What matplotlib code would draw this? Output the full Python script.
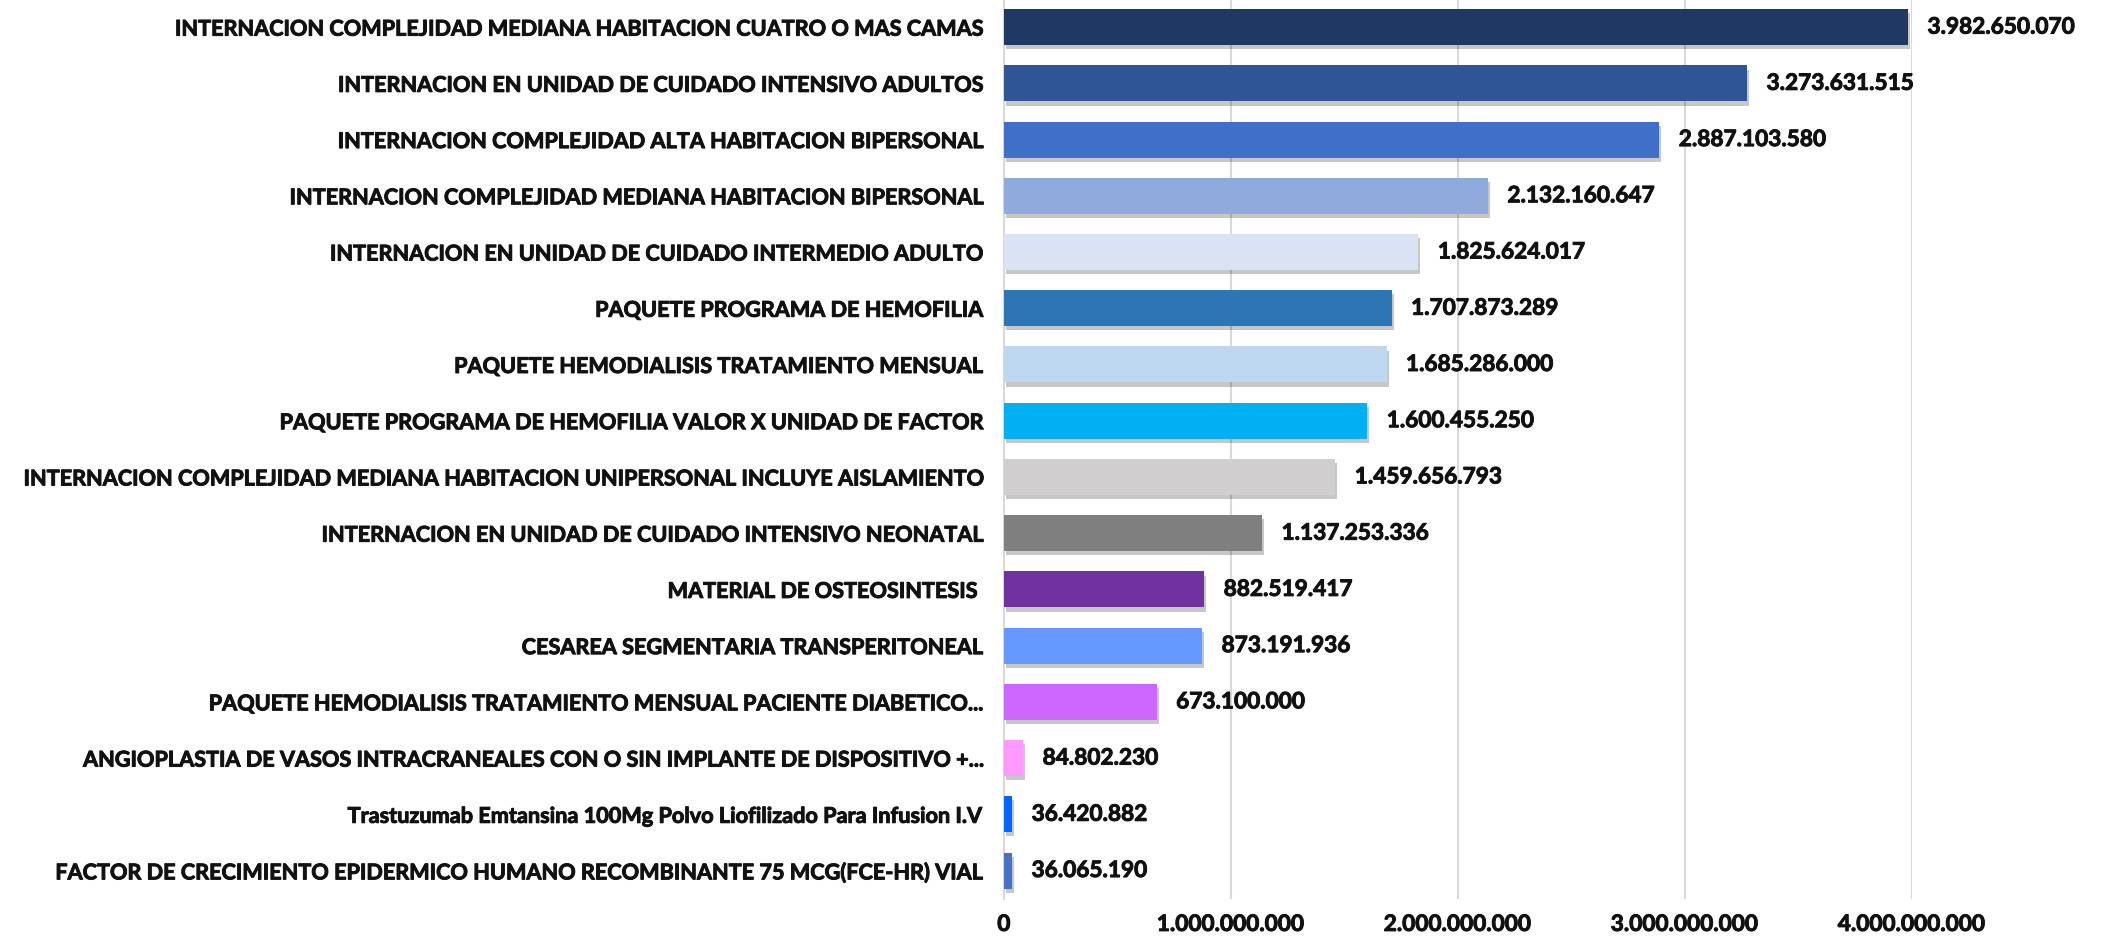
import matplotlib
matplotlib.use("Agg")
import matplotlib.pyplot as plt
import matplotlib.patheffects as pe
from matplotlib.ticker import FuncFormatter

plt.rcParams['font.family'] = ['Lato', 'DejaVu Sans']
plt.rcParams['font.weight'] = 'bold'

# servicios ordenados de mayor a menor valor
servicios = [
    "INTERNACION COMPLEJIDAD MEDIANA HABITACION CUATRO O MAS CAMAS",
    "INTERNACION EN UNIDAD DE CUIDADO INTENSIVO ADULTOS",
    "INTERNACION COMPLEJIDAD ALTA HABITACION BIPERSONAL",
    "INTERNACION COMPLEJIDAD MEDIANA HABITACION BIPERSONAL",
    "INTERNACION EN UNIDAD DE CUIDADO INTERMEDIO ADULTO",
    "PAQUETE PROGRAMA DE HEMOFILIA",
    "PAQUETE HEMODIALISIS TRATAMIENTO MENSUAL",
    "PAQUETE PROGRAMA DE HEMOFILIA VALOR X UNIDAD DE FACTOR",
    "INTERNACION COMPLEJIDAD MEDIANA HABITACION UNIPERSONAL INCLUYE AISLAMIENTO",
    "INTERNACION EN UNIDAD DE CUIDADO INTENSIVO NEONATAL",
    "MATERIAL DE OSTEOSINTESIS ",
    "CESAREA SEGMENTARIA TRANSPERITONEAL",
    "PAQUETE HEMODIALISIS TRATAMIENTO MENSUAL PACIENTE DIABETICO...",
    "ANGIOPLASTIA DE VASOS INTRACRANEALES CON O SIN IMPLANTE DE DISPOSITIVO +...",
    "Trastuzumab Emtansina 100Mg Polvo Liofilizado Para Infusion I.V",
    "FACTOR DE CRECIMIENTO EPIDERMICO HUMANO RECOMBINANTE 75 MCG(FCE-HR) VIAL",
]
valores = [
    3982650070, 3273631515, 2887103580, 2132160647, 1825624017,
    1707873289, 1685286000, 1600455250, 1459656793, 1137253336,
    882519417, 873191936, 673100000, 84802230, 36420882, 36065190,
]
colores = [
    "#203864", "#2F5597", "#3F6FC9", "#8FAADC", "#DAE3F3",
    "#2E75B6", "#BDD7EE", "#00B0F0", "#D0CECE", "#7F7F7F",
    "#7030A0", "#6699FF", "#CC66FF", "#FF99FF", "#0066FF", "#4472C4",
]
ticks_x = [0, 1e9, 2e9, 3e9, 4e9]

texto = '#111111'
grueso = [pe.withStroke(linewidth=0.7, foreground=texto)]

def miles(v):
    return f"{int(v):,}".replace(",", ".")

fig = plt.figure(figsize=(21.02, 9.45), dpi=100)
ax = fig.add_axes([0.4776, 0.048, 0.4320, 0.952])

pos = list(range(len(servicios)))
bars = ax.barh(pos, valores, height=0.64, color=colores, zorder=3)
for b in bars:
    b.set_path_effects([pe.SimplePatchShadow(offset=(1.5, -3), shadow_rgbFace='black', alpha=0.22), pe.Normal()])

etiquetas = []
for b, v in zip(bars, valores):
    t = ax.annotate(miles(v), (b.get_width(), b.get_y() + b.get_height() / 2),
                    xytext=(14, 0), textcoords='offset points',
                    va='center', ha='left', fontsize=14, fontweight='bold', color=texto)
    etiquetas.append(t)

ax.set_yticks(pos)
ax.set_yticklabels(servicios, fontsize=14, fontweight='bold', color=texto)
ax.set_ylim(len(servicios) - 0.5, -0.5)
ax.set_xlim(0, 4e9)
ax.set_xticks(ticks_x)
ax.xaxis.set_major_formatter(FuncFormatter(lambda v, p: miles(v)))
ax.tick_params(axis='x', labelsize=14, labelcolor=texto)

# ajustar tamaños de letra al ancho disponible
fig.canvas.draw()
r = fig.canvas.get_renderer()
w_cat = max(t.get_window_extent(r).width for t in ax.get_yticklabels())
fs_cat = 14 * 966 / w_cat
w_val = etiquetas[0].get_window_extent(r).width
fs_val = 14 * 148 / w_val
for t in ax.get_yticklabels():
    t.set_fontsize(fs_cat)
    t.set_path_effects(grueso)
for t in etiquetas:
    t.set_fontsize(fs_val)
    t.set_path_effects(grueso)
ax.tick_params(axis='x', labelsize=fs_val)
for t in ax.get_xticklabels():
    t.set_fontweight('bold')
    t.set_path_effects(grueso)

ax.tick_params(axis='y', length=0, pad=15)
ax.tick_params(axis='x', length=0, pad=11)
ax.grid(axis='x', color='#d9d9d9', linewidth=1.5, zorder=0)
for s in ['top', 'right', 'bottom']:
    ax.spines[s].set_visible(False)
ax.spines['left'].set_color('#d9d9d9')
ax.spines['left'].set_linewidth(1.5)
ax.spines['left'].set_zorder(1)

fig.savefig("out.png", dpi=100)
